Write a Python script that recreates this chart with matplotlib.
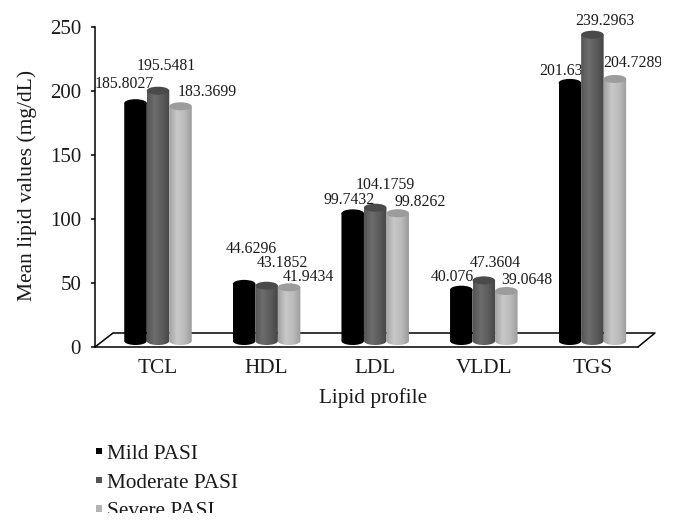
import numpy as np
import matplotlib
matplotlib.use("Agg")
import matplotlib.pyplot as plt
from matplotlib.colors import LinearSegmentedColormap
from matplotlib.patches import Ellipse, PathPatch, Patch, Rectangle
from matplotlib.path import Path
from matplotlib.transforms import Affine2D

plt.rcParams["font.family"] = ["Liberation Serif", "DejaVu Serif"]

# data
categories = ["TCL", "HDL", "LDL", "VLDL", "TGS"]
mild = [185.8027, 44.6296, 99.7432, 40.076, 201.63]
moderate = [195.5481, 43.1852, 104.1759, 47.3604, 239.2963]
severe = [183.3699, 41.9434, 99.8262, 39.0648, 204.7289]
series_names = ["Mild PASI", "Moderate PASI", "Severe PASI"]

# label offsets from each bar top, in pixels
mild_off = [(-11, 19), (7.5, 35), (-3.5, 13), (-9, 13), (-9, 12)]
moderate_off = [(8, 25), (16, 23), (10, 22.6), (11.5, 17), (12.5, 14)]
severe_off = [(26.5, 14), (19.5, 10), (22.5, 11), (20, 11), (18, 16)]

# cylinder styles: edge, middle, edge, top cap
styles = [
    (["#000000", "#000000"], "#000000"),
    (["#565656", "#6c6c6c", "#5c5c5c", "#464646"], "#4a4a4a"),
    (["#a2a2a2", "#c8c8c8", "#bcbcbc", "#9c9c9c"], "#9c9c9c"),
]

W, H = 676, 527
TEXT = "#1a1a1a"
FS = 15.3
fig = plt.figure(figsize=(W / 100, H / 100), dpi=100)
left, right, top, bottom = 95, 638, 27, 347
ax = fig.add_axes([left / W, 1 - bottom / H, (right - left) / W, (bottom - top) / H])

step = 108.6
xlim = ((left - 158) / step, (right - 158) / step)
px_y = (bottom - top) / 250
bar_w = 22.5 / step
base = 6 / px_y
cap = 4 / px_y


def cylinder(x, value, colors, cap_color):
    x0, x1 = x - bar_w / 2, x + bar_w / 2
    t = np.linspace(0, np.pi, 40)
    xs = x + np.cos(t) * bar_w / 2
    lower = base - np.sin(t) * cap
    upper = value + base
    verts = [(x0, upper)] + [(a, b) for a, b in zip(xs[::-1], lower[::-1])] + [(x1, upper), (x0, upper)]
    clip = PathPatch(Path(verts), transform=ax.transData, fc="none", ec="none")
    ax.add_patch(clip)
    cmap = LinearSegmentedColormap.from_list("cyl", colors)
    im = ax.imshow(np.linspace(0, 1, 64).reshape(1, -1), extent=[x0, x1, base - cap, upper],
                   cmap=cmap, aspect="auto", zorder=2, clip_on=True)
    im.set_clip_path(clip)
    ax.add_patch(Ellipse((x, upper), bar_w, 2 * cap, fc=cap_color, ec="none", zorder=2.1))


# floor of the 3d box, in image pixels
floor_x = [left, 113, 655, right]
floor_y = [bottom, 333, 333, bottom]
ax.plot(floor_x, floor_y, color="black", lw=1.1, transform=Affine2D().scale(1, -1).translate(0, H),
        clip_on=False, zorder=1)

labels = []
for k, (vals, offs) in enumerate(zip([mild, moderate, severe], [mild_off, moderate_off, severe_off])):
    for i, v in enumerate(vals):
        x = i + (k - 1) * bar_w
        cylinder(x, v, styles[k][0], styles[k][1])
        dx, dy = offs[i]
        labels.append(ax.annotate(str(v), (x, v + base), xytext=(dx * 0.72, dy * 0.72),
                                  textcoords="offset points", ha="center", va="center",
                                  fontsize=11.3, color=TEXT, zorder=1.5, annotation_clip=False))

ax.set_xlim(*xlim)
ax.set_ylim(0, 250)
ax.set_xticks(range(5))
ax.set_xticklabels(categories, fontsize=FS, color=TEXT)
ax.set_yticks([0, 50, 100, 150, 200, 250])
ax.tick_params(axis="x", length=0, pad=8.5)
ax.tick_params(axis="y", length=3, width=1.1, pad=7, labelsize=15, labelcolor=TEXT)
ax.spines["top"].set_visible(False)
ax.spines["right"].set_visible(False)
ax.spines["left"].set_linewidth(1.1)
ax.spines["bottom"].set_linewidth(1.1)
ax.patch.set_alpha(0)
ax.set_ylabel("Mean lipid values (mg/dL)", fontsize=15.5, color=TEXT, va="center")
ax.yaxis.set_label_coords(27.5 / W, 1 - 185 / H, transform=fig.transFigure)
ax.set_xlabel("Lipid profile", fontsize=FS, color=TEXT, va="center")
ax.xaxis.set_label_coords(373 / W, 1 - 398 / H, transform=fig.transFigure)

# last digit of the top right label is cut in the source
labels[-1].set_clip_path(Rectangle((0, 0), 661 / W, 1, transform=fig.transFigure))
labels[-1].set_clip_on(True)

handles = [Patch(fc=c) for c in ["#000000", "#555555", "#b4b4b4"]]
leg = fig.legend(handles, series_names, loc="upper left", bbox_to_anchor=(96 / W, 1 - 445 / H),
                 bbox_transform=fig.transFigure, frameon=False, fontsize=FS, labelspacing=0.45,
                 handlelength=0.3, handleheight=0.085, handletextpad=0.2, borderpad=0, borderaxespad=0,
                 labelcolor=TEXT)
for h in leg.get_patches():
    h.set_edgecolor("none")

# bottom of the source image is cropped through the last legend row
crop = Rectangle((0, 1 - 513 / H), 1, 513 / H, transform=fig.transFigure)
for t in leg.get_texts():
    t.set_clip_path(crop)
    t.set_clip_on(True)

fig.savefig("out.png", dpi=100)
